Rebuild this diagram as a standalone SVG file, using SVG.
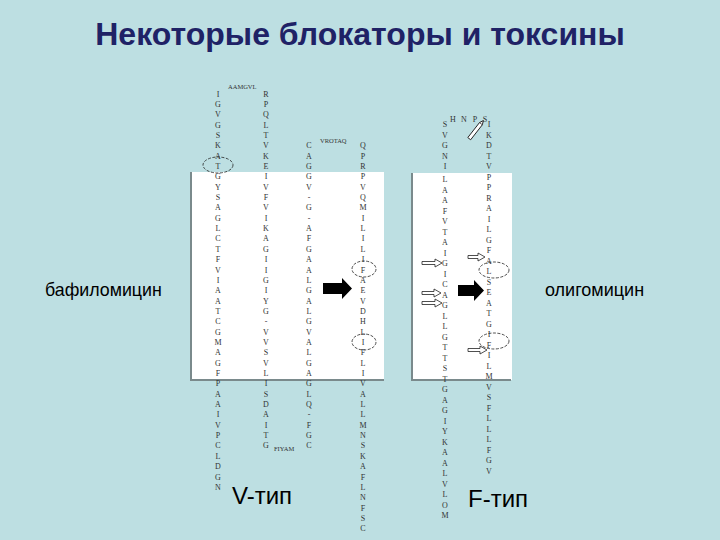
<svg xmlns="http://www.w3.org/2000/svg" width="720" height="540" viewBox="0 0 720 540">
<style>
.t{font-family:"Liberation Sans",Arial,sans-serif;fill:#000}
.title{font-family:"Liberation Sans",Arial,sans-serif;font-weight:bold;font-size:32px;fill:#1F2266}
.aa{font-family:"Liberation Serif","DejaVu Serif",serif;font-size:8px;fill:#333;text-anchor:middle}
.sm{font-family:"Liberation Serif","DejaVu Serif",serif;font-size:6.5px;fill:#333}
.ring{fill:none;stroke:#222;stroke-width:0.8;stroke-dasharray:3 1.5}
.open{fill:#fff;stroke:#222;stroke-width:0.8}
</style>
<rect width="720" height="540" fill="#BDDFE2"/>
<text class="title" x="360" y="45" text-anchor="middle">Некоторые блокаторы и токсины</text>

<g id="panel-v">
<rect x="191" y="172" width="193" height="208" fill="#fff"/>
<polyline points="191,172 191,380 384,380" fill="none" stroke="#7A8A8C" stroke-width="2"/>
</g>
<g id="panel-f">
<rect x="412" y="173" width="100" height="207" fill="#fff"/>
<polyline points="412,173 412,380 511,380" fill="none" stroke="#7A8A8C" stroke-width="2"/>
</g>

<g id="seq-v">
<g transform="translate(218,0)">
<text class="aa" x="0" y="96.5">I</text><text class="aa" x="0" y="106.9">G</text><text class="aa" x="0" y="117.2">V</text><text class="aa" x="0" y="127.6">G</text><text class="aa" x="0" y="137.9">S</text><text class="aa" x="0" y="148.3">K</text><text class="aa" x="0" y="158.6">A</text><text class="aa" x="0" y="169">T</text><text class="aa" x="0" y="179.3">G</text><text class="aa" x="0" y="189.7">Y</text><text class="aa" x="0" y="200">S</text><text class="aa" x="0" y="210.4">A</text><text class="aa" x="0" y="220.7">G</text><text class="aa" x="0" y="231.1">L</text><text class="aa" x="0" y="241.4">C</text><text class="aa" x="0" y="251.8">T</text><text class="aa" x="0" y="262.1">F</text><text class="aa" x="0" y="272.5">V</text><text class="aa" x="0" y="282.8">I</text><text class="aa" x="0" y="293.2">A</text><text class="aa" x="0" y="303.5">A</text><text class="aa" x="0" y="313.9">T</text><text class="aa" x="0" y="324.2">C</text><text class="aa" x="0" y="334.6">G</text><text class="aa" x="0" y="344.9">M</text><text class="aa" x="0" y="355.3">A</text><text class="aa" x="0" y="365.6">G</text><text class="aa" x="0" y="376">F</text><text class="aa" x="0" y="386.3">P</text><text class="aa" x="0" y="396.7">A</text><text class="aa" x="0" y="407">A</text><text class="aa" x="0" y="417.4">I</text><text class="aa" x="0" y="427.7">V</text><text class="aa" x="0" y="438.1">P</text><text class="aa" x="0" y="448.4">C</text><text class="aa" x="0" y="458.8">L</text><text class="aa" x="0" y="469.1">D</text><text class="aa" x="0" y="479.5">G</text><text class="aa" x="0" y="489.8">N</text>
</g>
<g transform="translate(266,0)">
<text class="aa" x="0" y="96.5">R</text><text class="aa" x="0" y="106.9">P</text><text class="aa" x="0" y="117.2">Q</text><text class="aa" x="0" y="127.6">L</text><text class="aa" x="0" y="137.9">T</text><text class="aa" x="0" y="148.3">V</text><text class="aa" x="0" y="158.6">K</text><text class="aa" x="0" y="169">E</text><text class="aa" x="0" y="179.3">I</text><text class="aa" x="0" y="189.7">V</text><text class="aa" x="0" y="200">F</text><text class="aa" x="0" y="210.4">V</text><text class="aa" x="0" y="220.7">I</text><text class="aa" x="0" y="231.1">K</text><text class="aa" x="0" y="241.4">A</text><text class="aa" x="0" y="251.8">G</text><text class="aa" x="0" y="262.1">I</text><text class="aa" x="0" y="272.5">I</text><text class="aa" x="0" y="282.8">G</text><text class="aa" x="0" y="293.2">I</text><text class="aa" x="0" y="303.5">Y</text><text class="aa" x="0" y="313.9">G</text><text class="aa" x="0" y="324.2">-</text><text class="aa" x="0" y="334.6">V</text><text class="aa" x="0" y="344.9">V</text><text class="aa" x="0" y="355.3">S</text><text class="aa" x="0" y="365.6">V</text><text class="aa" x="0" y="376">L</text><text class="aa" x="0" y="386.3">I</text><text class="aa" x="0" y="396.7">S</text><text class="aa" x="0" y="407">D</text><text class="aa" x="0" y="417.4">A</text><text class="aa" x="0" y="427.7">I</text><text class="aa" x="0" y="438.1">T</text><text class="aa" x="0" y="448.4">G</text>
</g>
<g transform="translate(309,0)">
<text class="aa" x="0" y="148.3">C</text><text class="aa" x="0" y="158.6">A</text><text class="aa" x="0" y="169">G</text><text class="aa" x="0" y="179.3">G</text><text class="aa" x="0" y="189.7">V</text><text class="aa" x="0" y="200">-</text><text class="aa" x="0" y="210.4">G</text><text class="aa" x="0" y="220.7">-</text><text class="aa" x="0" y="231.1">A</text><text class="aa" x="0" y="241.4">F</text><text class="aa" x="0" y="251.8">G</text><text class="aa" x="0" y="262.1">A</text><text class="aa" x="0" y="272.5">A</text><text class="aa" x="0" y="282.8">L</text><text class="aa" x="0" y="293.2">G</text><text class="aa" x="0" y="303.5">A</text><text class="aa" x="0" y="313.9">L</text><text class="aa" x="0" y="324.2">G</text><text class="aa" x="0" y="334.6">V</text><text class="aa" x="0" y="344.9">A</text><text class="aa" x="0" y="355.3">L</text><text class="aa" x="0" y="365.6">G</text><text class="aa" x="0" y="376">A</text><text class="aa" x="0" y="386.3">G</text><text class="aa" x="0" y="396.7">L</text><text class="aa" x="0" y="407">Q</text><text class="aa" x="0" y="417.4">-</text><text class="aa" x="0" y="427.7">F</text><text class="aa" x="0" y="438.1">G</text><text class="aa" x="0" y="448.4">C</text>
</g>
<g transform="translate(363,0)">
<text class="aa" x="0" y="148.3">Q</text><text class="aa" x="0" y="158.6">P</text><text class="aa" x="0" y="169">R</text><text class="aa" x="0" y="179.3">P</text><text class="aa" x="0" y="189.7">V</text><text class="aa" x="0" y="200">Q</text><text class="aa" x="0" y="210.4">M</text><text class="aa" x="0" y="220.7">I</text><text class="aa" x="0" y="231.1">L</text><text class="aa" x="0" y="241.4">I</text><text class="aa" x="0" y="251.8">L</text><text class="aa" x="0" y="262.1">I</text><text class="aa" x="0" y="272.5">F</text><text class="aa" x="0" y="282.8">A</text><text class="aa" x="0" y="293.2">E</text><text class="aa" x="0" y="303.5">V</text><text class="aa" x="0" y="313.9">D</text><text class="aa" x="0" y="324.2">H</text><text class="aa" x="0" y="334.6">L</text><text class="aa" x="0" y="344.9">I</text><text class="aa" x="0" y="355.3">F</text><text class="aa" x="0" y="365.6">L</text><text class="aa" x="0" y="376">I</text><text class="aa" x="0" y="386.3">V</text><text class="aa" x="0" y="396.7">A</text><text class="aa" x="0" y="407">L</text><text class="aa" x="0" y="417.4">L</text><text class="aa" x="0" y="427.7">M</text><text class="aa" x="0" y="438.1">N</text><text class="aa" x="0" y="448.4">S</text><text class="aa" x="0" y="458.8">K</text><text class="aa" x="0" y="469.1">A</text><text class="aa" x="0" y="479.5">F</text><text class="aa" x="0" y="489.8">L</text><text class="aa" x="0" y="500.2">N</text><text class="aa" x="0" y="510.5">F</text><text class="aa" x="0" y="520.9">S</text><text class="aa" x="0" y="531.2">C</text>
</g>
<text class="sm" x="228" y="89">AAMGVL</text>
<text class="sm" x="320" y="143">VROTAQ</text>
<text class="sm" x="274" y="451">FIYAM</text>
</g>

<g id="seq-f">
<g transform="translate(445,0)">
<text class="aa" x="0" y="127">S</text><text class="aa" x="0" y="137.5">V</text><text class="aa" x="0" y="148">G</text><text class="aa" x="0" y="158.5">N</text><text class="aa" x="0" y="169">I</text><text class="aa" x="0" y="182">L</text><text class="aa" x="0" y="192.5">A</text><text class="aa" x="0" y="203">A</text><text class="aa" x="0" y="213.5">F</text><text class="aa" x="0" y="224">V</text><text class="aa" x="0" y="234.5">T</text><text class="aa" x="0" y="245">A</text><text class="aa" x="0" y="255.5">I</text><text class="aa" x="0" y="266">G</text><text class="aa" x="0" y="276.5">I</text><text class="aa" x="0" y="287">C</text><text class="aa" x="0" y="297.5">A</text><text class="aa" x="0" y="308">G</text><text class="aa" x="0" y="318.5">L</text><text class="aa" x="0" y="329">L</text><text class="aa" x="0" y="339.5">G</text><text class="aa" x="0" y="350">T</text><text class="aa" x="0" y="360.5">T</text><text class="aa" x="0" y="371">S</text><text class="aa" x="0" y="381.5">T</text><text class="aa" x="0" y="392">G</text><text class="aa" x="0" y="402.5">A</text><text class="aa" x="0" y="413">G</text><text class="aa" x="0" y="423.5">I</text><text class="aa" x="0" y="434">Y</text><text class="aa" x="0" y="444.5">K</text><text class="aa" x="0" y="455">A</text><text class="aa" x="0" y="465.5">A</text><text class="aa" x="0" y="476">L</text><text class="aa" x="0" y="486.5">V</text><text class="aa" x="0" y="497">L</text><text class="aa" x="0" y="507.5">O</text><text class="aa" x="0" y="518">M</text>
</g>
<g transform="translate(489,0)">
<text class="aa" x="0" y="127">I</text><text class="aa" x="0" y="137.5">K</text><text class="aa" x="0" y="148">D</text><text class="aa" x="0" y="158.5">T</text><text class="aa" x="0" y="169">V</text><text class="aa" x="0" y="179.5">P</text><text class="aa" x="0" y="190">P</text><text class="aa" x="0" y="200.5">R</text><text class="aa" x="0" y="211">A</text><text class="aa" x="0" y="221.5">I</text><text class="aa" x="0" y="232">L</text><text class="aa" x="0" y="242.5">G</text><text class="aa" x="0" y="253">F</text><text class="aa" x="0" y="263.5">A</text><text class="aa" x="0" y="274">L</text><text class="aa" x="0" y="284.5">S</text><text class="aa" x="0" y="295">E</text><text class="aa" x="0" y="305.5">A</text><text class="aa" x="0" y="316">T</text><text class="aa" x="0" y="326.5">G</text><text class="aa" x="0" y="337">I</text><text class="aa" x="0" y="347.5">F</text><text class="aa" x="0" y="358">I</text><text class="aa" x="0" y="368.5">L</text><text class="aa" x="0" y="379">M</text><text class="aa" x="0" y="389.5">V</text><text class="aa" x="0" y="400">S</text><text class="aa" x="0" y="410.5">F</text><text class="aa" x="0" y="421">L</text><text class="aa" x="0" y="431.5">L</text><text class="aa" x="0" y="442">L</text><text class="aa" x="0" y="452.5">F</text><text class="aa" x="0" y="463">G</text><text class="aa" x="0" y="473.5">V</text>
</g>
<text class="aa" x="453" y="122">H</text><text class="aa" x="464" y="122">N</text><text class="aa" x="475" y="122">P</text><text class="aa" x="485" y="122">S</text>
<g id="pencil" transform="translate(476,130) rotate(-52)">
<path d="M-11,-1.8 H8 L12,0 L8,1.8 H-11 Z" fill="#fff" stroke="#222" stroke-width="0.9"/>
<line x1="8" y1="-1.8" x2="8" y2="1.8" stroke="#222" stroke-width="0.7"/>
</g>
</g>

<g id="marks">
<ellipse class="ring" cx="218" cy="165" rx="15" ry="8"/>
<ellipse class="ring" cx="364" cy="269" rx="12" ry="8"/>
<ellipse class="ring" cx="364" cy="342" rx="12" ry="8"/>
<ellipse class="ring" cx="494" cy="270" rx="15" ry="8"/>
<ellipse class="ring" cx="494" cy="341" rx="15" ry="8"/>
</g>

<g id="connectors">
<path d="M323,283 H342 V278 L352,288.5 L342,299 V294 H323 Z" fill="#000"/>
<path d="M458,285 H474 V280 L484,290.5 L474,301 V296 H458 Z" fill="#000"/>
<path class="open" d="M422,261.5 H435 V259 L442,263 L435,267 V264.5 H422 Z"/>
<path class="open" d="M422,291.5 H434 V289 L441,293 L434,297 V294.5 H422 Z"/>
<path class="open" d="M422,301.5 H435 V299 L442,303 L435,307 V304.5 H422 Z"/>
<path class="open" d="M468,255.5 H478 V253 L485,257 L478,261 V258.5 H468 Z"/>
<path class="open" d="M468,348.5 H480 V346 L487,350 L480,354 V351.5 H468 Z"/>
</g>

<text class="t" x="45" y="296" font-size="17.8">бафиломицин</text>
<text class="t" x="545" y="296" font-size="18">олигомицин</text>
<text class="t" x="232" y="504" font-size="24">V-тип</text>
<text class="t" x="468" y="507" font-size="24">F-тип</text>
</svg>
